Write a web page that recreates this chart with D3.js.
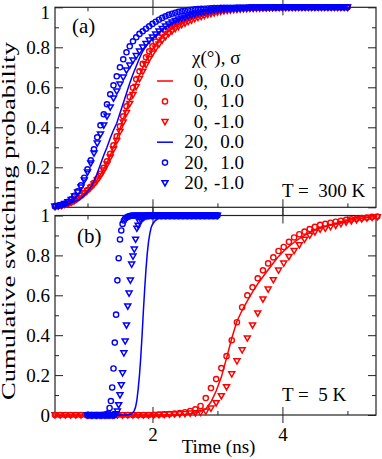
<!DOCTYPE html>
<html><head><meta charset="utf-8">
<script src="https://cdn.jsdelivr.net/npm/d3@7"></script>
<style>
body{margin:0;background:#fff}
svg{display:block}
text{font-family:"Liberation Serif","Times New Roman",serif;fill:#000}
</style>
</head><body>
<svg id="c" width="382" height="459"></svg>
<script>
// ---------- DATA ----------
// Panel (a): T = 300 K, time grid (ns)
const timeA = [
 0.50,0.55,0.60,0.65,0.70,0.75,0.80,0.85,0.90,0.95,
 1.00,1.05,1.10,1.15,1.20,1.25,1.30,1.35,1.40,1.45,
 1.50,1.55,1.60,1.65,1.70,1.75,1.80,1.85,1.90,1.95,
 2.00,2.05,2.10,2.15,2.20,2.25,2.30,2.35,2.40,2.45,
 2.50,2.55,2.60,2.65,2.70,2.75,2.80,2.85,2.90,2.95,
 3.00,3.05,3.10,3.15,3.20,3.25,3.30,3.35,3.40,3.45,
 3.50,3.55,3.60,3.65,3.70,3.75,3.80,3.85,3.90,3.95,
 4.00,4.05,4.10,4.15,4.20,4.25,4.30,4.35,4.40,4.45,
 4.50,4.55,4.60,4.65,4.70,4.75,4.80,4.85,4.90,4.95,
 5.00];
// chi=0, sigma=0.0 (line)
const a_chi0_s0 = [
 .003,.005,.008,.012,.017,.024,.033,.044,.056,.070,
 .084,.100,.118,.139,.163,.191,.223,.259,.300,.344,
 .392,.440,.488,.535,.580,.622,.661,.697,.731,.762,
 .788,.812,.833,.852,.868,.882,.894,.905,.914,.923,
 .931,.938,.945,.950,.956,.961,.965,.970,.973,.977,
 .980,.982,.985,.987,.988,.990,.991,.992,.993,.994,
 .995,.996,.996,.997,.997,.998,.998,.998,.999,.999,
 .999,.999,1,1,1,1,1,1,1,1,
 1,1,1,1,1,1,1,1,1,1,
 1];
// chi=0, sigma=1.0 (circles)
const a_chi0_s1 = [
 .004,.006,.009,.013,.018,.025,.034,.045,.058,.072,
 .086,.103,.122,.143,.168,.197,.230,.268,.310,.355,
 .405,.455,.505,.552,.598,.640,.680,.717,.750,.780,
 .805,.828,.850,.868,.883,.896,.907,.917,.925,.933,
 .940,.947,.953,.958,.963,.968,.972,.976,.979,.982,
 .985,.987,.989,.990,.992,.993,.994,.995,.995,.996,
 .996,.997,.997,.998,.998,.998,.999,.999,.999,.999,
 1,1,1,1,1,1,1,1,1,1,
 1,1,1,1,1,1,1,1,1,1,
 1];
// chi=0, sigma=-1.0 (triangles)
const a_chi0_sm1 = [
 .004,.006,.009,.013,.018,.025,.034,.045,.057,.070,
 .083,.098,.115,.135,.158,.185,.215,.250,.290,.333,
 .378,.425,.472,.518,.562,.603,.642,.678,.712,.743,
 .770,.795,.815,.835,.852,.867,.880,.892,.902,.912,
 .920,.928,.935,.942,.948,.953,.958,.963,.967,.971,
 .975,.978,.981,.983,.985,.987,.989,.990,.991,.992,
 .993,.994,.995,.995,.996,.996,.997,.997,.998,.998,
 .998,.999,.999,.999,.999,1,1,1,1,1,
 1,1,1,1,1,1,1,1,1,1,
 1];
// chi=20, sigma=0.0 (line)
const a_chi20_s0 = [
 .003,.005,.008,.012,.017,.022,.028,.035,.045,.060,
 .080,.100,.130,.170,.215,.260,.300,.345,.385,.420,
 .470,.520,.570,.620,.665,.705,.745,.780,.805,.825,
 .845,.860,.875,.890,.900,.910,.920,.930,.938,.945,
 .952,.958,.963,.968,.972,.976,.979,.982,.985,.987,
 .989,.990,.991,.992,.993,.994,.995,.996,.996,.997,
 .997,.998,.998,.998,.999,.999,.999,1,1,1,
 1,1,1,1,1,1,1,1,1,1,
 1,1,1,1,1,1,1,1,1,1,
 1];
// chi=20, sigma=1.0 (circles)
const a_chi20_s1 = [
 .005,.008,.012,.018,.027,.040,.057,.080,.110,.148,
 .190,.235,.290,.350,.410,.465,.515,.565,.610,.655,
 .700,.740,.775,.805,.830,.850,.867,.880,.893,.905,
 .917,.928,.938,.947,.955,.962,.968,.973,.977,.980,
 .983,.986,.988,.990,.991,.992,.993,.994,.995,.996,
 .996,.997,.997,.998,.998,.998,.999,.999,.999,.999,
 1,1,1,1,1,1,1,1,1,1,
 1,1,1,1,1,1,1,1,1,1,
 1,1,1,1,1,1,1,1,1,1,
 1];
// chi=20, sigma=-1.0 (triangles)
const a_chi20_sm1 = [
 .004,.007,.011,.017,.026,.038,.055,.075,.100,.135,
 .175,.220,.270,.320,.365,.410,.455,.500,.545,.580,
 .615,.650,.685,.710,.735,.757,.780,.800,.818,.835,
 .850,.865,.880,.893,.905,.915,.925,.932,.940,.945,
 .950,.955,.960,.965,.970,.973,.976,.979,.982,.985,
 .987,.989,.990,.991,.992,.993,.994,.995,.996,.996,
 .997,.997,.998,.998,.998,.999,.999,.999,.999,1,
 1,1,1,1,1,1,1,1,1,1,
 1,1,1,1,1,1,1,1,1,1,
 1];

// Panel (b): T = 5 K, chi = 0 series time grid (ns)
const timeB0 = [
 0.50,0.58,0.66,0.74,0.82,0.90,0.98,1.06,1.14,1.22,
 1.30,1.38,1.46,1.54,1.62,1.70,1.78,1.86,1.94,2.02,
 2.10,2.18,2.26,2.34,2.42,2.50,2.58,2.66,2.74,2.82,
 2.90,2.98,3.06,3.14,3.22,3.30,3.38,3.46,3.54,3.62,
 3.70,3.78,3.86,3.94,4.02,4.10,4.18,4.26,4.34,4.42,
 4.50,4.58,4.66,4.74,4.82,4.90,4.98,5.06,5.14,5.22,
 5.30,5.38,5.46];
const b_chi0_s0 = [
 0,0,0,0,0,0,0,0,0,0,
 0,0,0,0,0,0,0,0,0,0,
 0,.001,.001,.002,.003,.004,.006,.010,.017,.030,
 .065,.120,.190,.285,.385,.470,.525,.572,.617,.657,
 .693,.728,.762,.795,.822,.845,.866,.884,.900,.914,
 .926,.936,.945,.953,.960,.966,.972,.977,.982,.986,
 .990,.993,.995];
const b_chi0_s1 = [
 0,0,0,0,0,0,0,0,0,0,
 0,0,0,0,0,0,0,0,0,.001,
 .002,.003,.005,.007,.010,.014,.020,.028,.045,.085,
 .135,.180,.235,.295,.375,.465,.540,.600,.640,.685,
 .725,.760,.790,.822,.842,.868,.890,.906,.919,.932,
 .943,.953,.958,.964,.969,.974,.978,.981,.984,.987,
 .990,.993,.995];
const b_chi0_sm1 = [
 0,0,0,0,0,0,0,0,0,0,
 0,0,0,0,0,0,0,0,0,0,
 .001,.002,.003,.004,.005,.006,.008,.010,.012,.018,
 .033,.060,.095,.140,.205,.270,.325,.385,.450,.510,
 .580,.630,.677,.725,.760,.793,.823,.852,.880,.900,
 .917,.930,.935,.943,.950,.958,.966,.972,.977,.982,
 .986,.989,.992];

// Panel (b): chi = 20 series time grid (ns)
const timeB20 = [
 1.00,1.02,1.04,1.06,1.08,1.10,1.12,1.14,1.16,1.18,
 1.20,1.22,1.24,1.26,1.28,1.30,1.32,1.34,1.36,1.38,
 1.40,1.42,1.44,1.46,1.48,1.50,1.52,1.54,1.56,1.58,
 1.60,1.62,1.64,1.66,1.68,1.70,1.72,1.74,1.76,1.78,
 1.80,1.82,1.84,1.86,1.88,1.90,1.92,1.94,1.96,1.98,
 2.00,2.02,2.04,2.06,2.08,2.10,2.12,2.14,2.16,2.18,
 2.20,2.22,2.24,2.26,2.28,2.30,2.32,2.34,2.36,2.38,
 2.40,2.42,2.44,2.46,2.48,2.50,2.52,2.54,2.56,2.58,
 2.60,2.62,2.64,2.66,2.68,2.70,2.72,2.74,2.76,2.78,
 2.80,2.82,2.84,2.86,2.88,2.90,2.92,2.94,2.96,2.98,
 3.00];
const b_chi20_s0 = [
 0,0,0,0,0,0,0,0,0,0,
 0,0,0,0,0,0,0,0,0,0,
 0,0,0,0,0,0,0,0,0,0,
 0,.001,.002,.004,.007,.012,.022,.040,.075,.130,
 .200,.290,.400,.520,.630,.730,.810,.870,.910,.940,
 .955,.965,.973,.978,.983,.987,.990,.992,.994,.995,
 .996,.997,.998,.999,1,1,1,1,1,1,
 1,1,1,1,1,1,1,1,1,1,
 1,1,1,1,1,1,1,1,1,1,
 1,1,1,1,1,1,1,1,1,1,
 1];
const b_chi20_s1 = [
 0,0,0,0,0,0,0,0,0,0,
 0,0,0,.001,.002,.004,.008,.035,.070,.138,
 .233,.363,.503,.675,.786,.880,.925,.958,.975,.985,
 .990,.994,.996,.998,.999,1,1,1,1,1,
 1,1,1,1,1,1,1,1,1,1,
 1,1,1,1,1,1,1,1,1,1,
 1,1,1,1,1,1,1,1,1,1,
 1,1,1,1,1,1,1,1,1,1,
 1,1,1,1,1,1,1,1,1,1,
 1,1,1,1,1,1,1,1,1,1,
 1];
const b_chi20_sm1 = [
 0,0,0,0,0,0,0,0,0,0,
 0,0,0,0,0,0,0,0,0,0,
 0,0,.005,.018,.050,.100,.150,.210,.310,.370,
 .450,.545,.610,.675,.755,.795,.830,.880,.935,.950,
 .968,.978,.985,.990,.994,.996,.998,.999,1,1,
 1,1,1,1,1,1,1,1,1,1,
 1,1,1,1,1,1,1,1,1,1,
 1,1,1,1,1,1,1,1,1,1,
 1,1,1,1,1,1,1,1,1,1,
 1,1,1,1,1,1,1,1,1,1,
 1];

// Legend / tick labels
const legendChi = ["0","0","0","20","20","20"];
const legendSigma = ["0.0","1.0","-1.0","0.0","1.0","-1.0"];
const xMajorTicks = [2,4];
const xMinorTicks = [1,3,5];
const yTicksA = [0.2,0.4,0.6,0.8,1];
const yTicksB = [0,0.2,0.4,0.6,0.8,1];
const yTicksAll = [0,0.2,0.4,0.6,0.8,1];
const yMinorTicks = [0.1,0.3,0.5,0.7,0.9];

// ---------- STYLE ----------
const RED = "#ff0000", BLUE = "#0000ff", AX = "#222";
const kinds = ["line","circle","tri","line","circle","tri"];
const colors = [RED,RED,RED,BLUE,BLUE,BLUE];
const triPath = "M-3,-2.3L3,-2.3L0,2.9Z";

const svg = d3.select("#c");
const x = d3.scaleLinear().domain([0.5, 5.44]).range([55, 376]);
const yA = d3.scaleLinear().domain([0,1]).range([207.3, 7.3]);
const yB = d3.scaleLinear().domain([0,1]).range([415, 215.5]);

const seriesA = [
  {t: timeA, v: a_chi0_s0}, {t: timeA, v: a_chi0_s1}, {t: timeA, v: a_chi0_sm1},
  {t: timeA, v: a_chi20_s0}, {t: timeA, v: a_chi20_s1}, {t: timeA, v: a_chi20_sm1}
];
const seriesB = [
  {t: timeB0, v: b_chi0_s0}, {t: timeB0, v: b_chi0_s1}, {t: timeB0, v: b_chi0_sm1},
  {t: timeB20, v: b_chi20_s0}, {t: timeB20, v: b_chi20_s1}, {t: timeB20, v: b_chi20_sm1}
];

function drawAxes(ys, yTickLabels, showX, shiftTop) {
  const [yb, yt] = ys.range();
  const g = svg.append("g");
  const style = sel => { sel.select(".domain").remove(); sel.selectAll("line").attr("stroke", AX).attr("stroke-width", 1); sel.selectAll("text").attr("font-size", 19).attr("font-family", '"Liberation Serif","Times New Roman",serif').attr("fill","#000"); };
  const bMaj = g.append("g").attr("transform", `translate(0,${yb})`)
    .call(d3.axisBottom(x).tickValues(xMajorTicks).tickSize(8).tickPadding(5).tickFormat(showX ? d3.format("d") : () => ""));
  style(bMaj); bMaj.selectAll("line").attr("y1", -8);
  const bMin = g.append("g").attr("transform", `translate(0,${yb})`)
    .call(d3.axisBottom(x).tickValues(xMinorTicks).tickSize(-4).tickFormat(() => ""));
  style(bMin);
  const tMaj = g.append("g").attr("transform", `translate(0,${yt})`)
    .call(d3.axisTop(x).tickValues(xMajorTicks).tickSize(8).tickFormat(() => ""));
  style(tMaj); tMaj.selectAll("line").attr("y1", 8);
  const tMin = g.append("g").attr("transform", `translate(0,${yt})`)
    .call(d3.axisTop(x).tickValues(xMinorTicks).tickSize(-4).tickFormat(() => ""));
  style(tMin);
  const lMaj = g.append("g").attr("transform", `translate(${x.range()[0]},0)`)
    .call(d3.axisLeft(ys).tickValues(yTicksAll).tickSize(-8).tickPadding(5)
      .tickFormat(d => yTickLabels.includes(d) ? (d === 0 || d === 1 ? d3.format("d")(d) : d3.format(".1f")(d)) : ""));
  style(lMaj);
  if (shiftTop) lMaj.selectAll("text").filter(d => d === 1).attr("y", shiftTop);
  const lMin = g.append("g").attr("transform", `translate(${x.range()[0]},0)`)
    .call(d3.axisLeft(ys).tickValues(yMinorTicks).tickSize(-4).tickFormat(() => ""));
  style(lMin);
  const rMaj = g.append("g").attr("transform", `translate(${x.range()[1]},0)`)
    .call(d3.axisRight(ys).tickValues(yTicksAll).tickSize(-8).tickFormat(() => ""));
  style(rMaj);
  const rMin = g.append("g").attr("transform", `translate(${x.range()[1]},0)`)
    .call(d3.axisRight(ys).tickValues(yMinorTicks).tickSize(-4).tickFormat(() => ""));
  style(rMin);
  g.append("rect").attr("x", x.range()[0]).attr("y", yt)
    .attr("width", x.range()[1] - x.range()[0]).attr("height", yb - yt)
    .attr("fill", "none").attr("stroke", AX).attr("stroke-width", 1.2);
}

function drawSeries(ys, list) {
  const g = svg.append("g");
  list.forEach((s, i) => {
    const pts = s.t.map((t, j) => [t, s.v[j]]);
    if (kinds[i] === "line") {
      g.append("path").datum(pts)
        .attr("d", d3.line().x(d => x(d[0])).y(d => ys(d[1])))
        .attr("fill", "none").attr("stroke", colors[i]).attr("stroke-width", 1.5);
    } else if (kinds[i] === "circle") {
      g.append("g").selectAll("circle").data(pts).join("circle")
        .attr("cx", d => x(d[0])).attr("cy", d => ys(d[1])).attr("r", 2.6)
        .attr("fill", "none").attr("stroke", colors[i]).attr("stroke-width", 1.4);
    } else {
      g.append("g").selectAll("path").data(pts).join("path")
        .attr("d", triPath).attr("transform", d => `translate(${x(d[0])},${ys(d[1])})`)
        .attr("fill", "none").attr("stroke", colors[i]).attr("stroke-width", 1.5);
    }
  });
}

drawAxes(yA, yTicksA, false, 5);
drawAxes(yB, yTicksB, true, 0);
drawSeries(yA, seriesA);
drawSeries(yB, seriesB);

// Legend
const lg = svg.append("g");
lg.append("text").attr("x", 192).attr("y", 64).attr("font-size", 19).text("\u03c7(\u00b0), \u03c3");
legendChi.forEach((c, i) => {
  const cy = 81 + i * 20.4;
  if (kinds[i] === "line") {
    lg.append("line").attr("x1", 157).attr("x2", 173).attr("y1", cy).attr("y2", cy)
      .attr("stroke", colors[i]).attr("stroke-width", 1.5);
  } else if (kinds[i] === "circle") {
    lg.append("circle").attr("cx", 165).attr("cy", cy).attr("r", 2.6)
      .attr("fill", "none").attr("stroke", colors[i]).attr("stroke-width", 1.4);
  } else {
    lg.append("path").attr("d", triPath).attr("transform", `translate(165,${cy})`)
      .attr("fill", "none").attr("stroke", colors[i]).attr("stroke-width", 1.5);
  }
  lg.append("text").attr("x", 208).attr("y", cy + 6).attr("font-size", 19)
    .attr("text-anchor", "end").text(c + ",");
  lg.append("text").attr("x", 244).attr("y", cy + 6).attr("font-size", 19)
    .attr("text-anchor", "end").text(legendSigma[i]);
});

// Annotations
svg.append("text").attr("x", 72).attr("y", 33).attr("font-size", 21).text("(a)");
svg.append("text").attr("x", 77).attr("y", 243).attr("font-size", 21).text("(b)");
svg.append("text").attr("x", 282).attr("y", 197).attr("font-size", 19).text("T = \u00a0300 K");
svg.append("text").attr("x", 282).attr("y", 401).attr("font-size", 19).text("T = \u00a05 K");

// Axis titles
svg.append("text").attr("x", 218.5).attr("y", 453).attr("font-size", 19)
  .attr("text-anchor", "middle").text("Time (ns)");
svg.append("text").attr("transform", "translate(15,221) rotate(-90)")
  .attr("font-size", 18).attr("text-anchor", "middle")
  .attr("textLength", 358).attr("lengthAdjust", "spacingAndGlyphs")
  .text("Cumulative switching probability");
</script>
</body></html>
